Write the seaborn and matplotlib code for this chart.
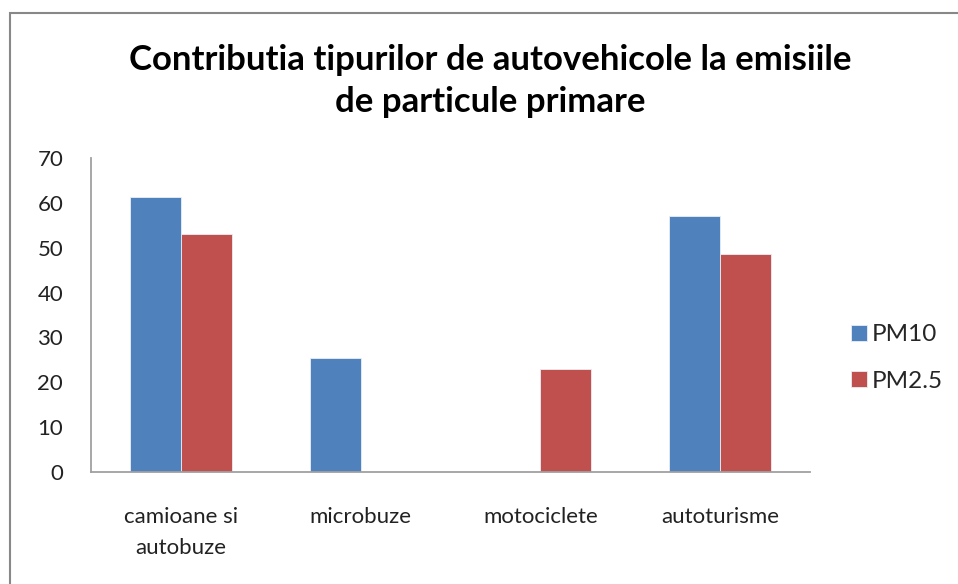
import pandas as pd
import matplotlib.pyplot as plt
import seaborn as sns
from matplotlib.patches import Rectangle

# Values
categories = ['camioane si\nautobuze', 'microbuze', 'motociclete', 'autoturisme']
pm10 = [61.4, 25.4, 0, 57.0]
pm25 = [53.1, 0, 22.9, 48.7]
series = ['PM10', 'PM2.5']
colors = ['#4f81bd', '#c0504d']

df = pd.DataFrame({
    'categorie': categories * 2,
    'valoare': pm10 + pm25,
    'serie': [series[0]] * len(categories) + [series[1]] * len(categories),
})

sns.set_theme(style='white')
plt.rcParams['font.family'] = ['Lato', 'DejaVu Sans']

fig = plt.figure(figsize=(9.58, 5.84), dpi=100)
ax = fig.add_axes([91 / 958, 1 - 472 / 584, (810 - 91) / 958, (472 - 158) / 584])

sns.barplot(data=df, x='categorie', y='valoare', hue='serie', palette=colors,
            width=0.567, saturation=1, ax=ax, legend=True,
            edgecolor='#e8eef6', linewidth=0.6)

ax.set_ylim(0, 70)
ax.set_yticks(range(0, 80, 10))
ax.set_xlabel('')
ax.set_ylabel('')
ax.tick_params(axis='both', length=0, labelsize=16, colors='#222222')
ax.tick_params(axis='x', pad=25)
ax.tick_params(axis='y', pad=20)
for lbl in ax.get_xticklabels():
    lbl.set_linespacing(1.7)
for side in ['top', 'right']:
    ax.spines[side].set_visible(False)
for side in ['left', 'bottom']:
    ax.spines[side].set_color('#a0a0a0')
    ax.spines[side].set_linewidth(1.3)

ax.legend(loc='center left', frameon=False, fontsize=17.5, handlelength=0.65,
          handleheight=0.65, handletextpad=0.2, labelspacing=1.05)
leg = ax.get_legend()
leg.set_bbox_to_anchor((829 / 958, 1 - 358 / 584), transform=fig.transFigure)

fig.text(490 / 958, 1 - 81 / 584,
         'Contributia tipurilor de autovehicole la emisiile\nde particule primare',
         ha='center', va='center', fontsize=25, fontweight='bold',
         linespacing=1.38, color='black')

# outer chart border
fig.patches.append(Rectangle((10 / 958, -0.1), 1.0, 1 - 13 / 584 + 0.1,
                             transform=fig.transFigure, fill=False,
                             edgecolor='#888888', linewidth=1.5))

fig.savefig('out.png', dpi=100)
